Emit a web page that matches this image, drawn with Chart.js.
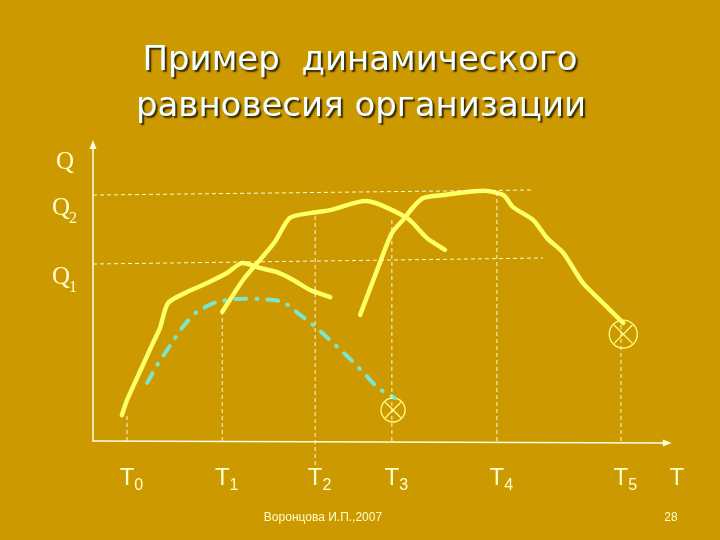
<!DOCTYPE html>
<html><head><meta charset="utf-8">
<script src="https://cdn.jsdelivr.net/npm/chart.js@4/dist/chart.umd.min.js"></script>
<style>html,body{margin:0;padding:0;background:#CC9900;overflow:hidden}canvas{display:block}</style>
</head><body><canvas id="c" width="720" height="540"></canvas>
<script>
// ---- text ----
const titleLines = ['Пример  динамического', 'равновесия организации'];
const footerText = 'Воронцова И.П.,2007';
const pageNumber = '28';
const axisLabelX = 'T';
const axisLabelY = 'Q';

// ---- time marks (x axis) ----
const tLabels = ['T0', 'T1', 'T2', 'T3', 'T4', 'T5'];
const tPositions = [5.9, 22.4, 38.5, 51.8, 70.0, 91.5];
const tLineTops = [8.6, 42.9, 75.7, 74.1, 82.7, 39.2];
const tLineBottoms = [0, 0, -8, 0, 0, 0];

// ---- quantity levels (y axis) ----
const qLabels = ['Q1', 'Q2'];
const qLevelsLeft = [58.8, 81.7];
const qLevelsRight = [60.8, 83.4];
const qLineEnds = [78.0, 76.3];

// ---- curves ----
const curveAx = [5.0, 5.9, 8.5, 10.4, 11.6, 13.0, 16.3, 19.8, 23.2, 25.8, 28.9, 31.9, 34.7, 37.6, 41.1];
const curveAy = [8.6, 13.6, 24.6, 32.6, 37.5, 45.8, 49.5, 52.5, 55.8, 59.1, 57.5, 56.1, 53.5, 50.2, 47.8];

const curveBx = [22.4, 26.0, 28.9, 31.5, 34.1, 37.6, 41.1, 47.5, 54.4, 57.9, 61.0];
const curveBy = [42.9, 53.5, 60.1, 66.1, 74.1, 75.7, 76.7, 79.7, 74.1, 67.4, 63.5];

const curveCx = [46.3, 49.7, 51.8, 53.7, 55.5, 57.2, 60.7, 67.6, 71.1, 72.8, 76.3, 78.7, 81.5, 84.9, 88.4, 91.9];
const curveCy = [41.9, 59.1, 69.1, 73.4, 77.7, 80.7, 81.7, 83.1, 81.7, 77.7, 73.4, 67.4, 62.5, 52.5, 45.8, 39.2];

const curveDx = [9.4, 11.1, 13.7, 15.4, 18.0, 21.5, 25.0, 28.9, 32.9, 35.9, 38.8, 41.6, 44.2, 46.8, 49.4, 52.3];
const curveDy = [19.3, 25.2, 32.6, 37.5, 42.9, 46.2, 47.2, 47.2, 46.2, 41.9, 37.5, 32.6, 27.9, 22.9, 17.6, 14.3];

// ---- end marks (circled X) ----
const stopX = [52.0, 91.9];
const stopY = [10.3, 35.5];

// ---- build ----
const zip = (xs, ys) => xs.map((v, i) => ({x: v, y: ys[i]}));
const GUIDE = 'rgba(255,255,215,0.95)';
const YELLOW = '#FFFF66';

const datasets = [];
tPositions.forEach((t, i) => datasets.push({
  data: [{x: t, y: tLineBottoms[i]}, {x: t, y: tLineTops[i]}],
  borderColor: GUIDE, borderWidth: 1, borderDash: [4, 3], pointRadius: 0, tension: 0, clip: false
}));
qLevelsLeft.forEach((q, i) => datasets.push({
  data: [{x: 0, y: q}, {x: qLineEnds[i], y: qLevelsRight[i]}],
  borderColor: GUIDE, borderWidth: 1, borderDash: [4, 3], pointRadius: 0, tension: 0, clip: false
}));
[[curveAx, curveAy], [curveBx, curveBy], [curveCx, curveCy]].forEach(([xs, ys]) => datasets.push({
  data: zip(xs, ys), borderColor: YELLOW, borderWidth: 4.5, pointRadius: 0, tension: 0.25,
  borderCapStyle: 'round', borderJoinStyle: 'round', clip: false
}));
datasets.push({
  data: zip(curveDx, curveDy), borderColor: '#7DE6C8', borderWidth: 4, pointRadius: 0, tension: 0.25,
  borderDash: [11, 10, 1, 10], borderCapStyle: 'round', clip: false
});
datasets.push({
  data: zip(stopX, stopY), showLine: false, pointStyle: 'circle',
  pointRadius: ctx => ctx.dataIndex === 0 ? 12 : 14,
  pointBorderColor: '#FFFF88', pointBackgroundColor: 'rgba(0,0,0,0)', pointBorderWidth: 1.3, clip: false
});
datasets.push({
  data: zip(stopX, stopY), showLine: false, pointStyle: 'crossRot',
  pointRadius: ctx => ctx.dataIndex === 0 ? 11 : 13,
  pointBorderColor: '#FFFF88', pointBorderWidth: 1.3, clip: false
});

const deco = {
  id: 'deco',
  beforeDraw(chart) {
    const c = chart.ctx; c.save(); c.fillStyle = '#CC9900'; c.fillRect(0, 0, chart.width, chart.height); c.restore();
  },
  beforeDatasetsDraw(chart) {
    const {ctx, scales: {x, y}} = chart;
    ctx.save();
    ctx.strokeStyle = '#FFFFE0'; ctx.fillStyle = '#FFFFE0'; ctx.lineWidth = 1.5;
    const x0 = x.getPixelForValue(0), y0 = y.getPixelForValue(0);
    const yTop = y.getPixelForValue(100);
    ctx.beginPath(); ctx.moveTo(x0, y0 + 1); ctx.lineTo(x0, yTop + 6); ctx.stroke();
    ctx.beginPath(); ctx.moveTo(x0, yTop); ctx.lineTo(x0 - 3.5, yTop + 9); ctx.lineTo(x0 + 3.5, yTop + 9); ctx.closePath(); ctx.fill();
    const xEnd = x.getPixelForValue(100.3), yEnd = y.getPixelForValue(-0.7);
    ctx.beginPath(); ctx.moveTo(x0, y0); ctx.lineTo(xEnd - 6, yEnd); ctx.stroke();
    ctx.beginPath(); ctx.moveTo(xEnd, yEnd); ctx.lineTo(xEnd - 9, yEnd - 3.5); ctx.lineTo(xEnd - 9, yEnd + 3.5); ctx.closePath(); ctx.fill();
    ctx.restore();
  },
  afterDraw(chart) {
    const {ctx, scales: {x, y}} = chart;
    ctx.save();
    // title
    ctx.font = '34px "DejaVu Sans"';
    ctx.textAlign = 'center'; ctx.textBaseline = 'alphabetic';
    ctx.shadowColor = 'rgba(40,25,0,0.9)'; ctx.shadowOffsetX = 2; ctx.shadowOffsetY = 2; ctx.shadowBlur = 1.5;
    ctx.fillStyle = '#F2FFFF';
    ctx.fillText(titleLines[0], 360, 70);
    ctx.fillText(titleLines[1], 361, 116);
    ctx.shadowColor = 'rgba(0,0,0,0)';
    // Q labels
    const cream = '#FFFFCC';
    ctx.fillStyle = cream; ctx.textAlign = 'left';
    ctx.font = '25px "Liberation Serif"';
    const x0 = x.getPixelForValue(0);
    ctx.fillText(axisLabelY, x0 - 37, y.getPixelForValue(100) + 29);
    qLabels.forEach((lab, i) => {
      const py = y.getPixelForValue(qLevelsLeft[i]);
      ctx.font = '25px "Liberation Serif"';
      ctx.fillText(lab[0], x0 - 41, py + 20);
      const w = ctx.measureText(lab[0]).width;
      ctx.font = '16px "Liberation Serif"';
      ctx.fillText(lab.slice(1), x0 - 41 + w - 1, py + 28);
    });
    // T labels
    const by = chart.chartArea.bottom + 44;
    tLabels.forEach((lab, i) => {
      const px = x.getPixelForValue(tPositions[i]);
      ctx.font = '24px "Liberation Sans"';
      const w = ctx.measureText(lab[0]).width;
      ctx.fillText(lab[0], px - w / 2, by);
      ctx.font = '16px "Liberation Sans"';
      ctx.fillText(lab.slice(1), px + w / 2, by + 5);
    });
    ctx.font = '24px "Liberation Sans"';
    ctx.textAlign = 'center';
    ctx.fillText(axisLabelX, x.getPixelForValue(101.2), by);
    // footer
    ctx.font = '12px "Liberation Sans"';
    ctx.fillText(footerText, 323, 521);
    ctx.fillText(pageNumber, 671, 521);
    ctx.restore();
  }
};

new Chart(document.getElementById('c'), {
  type: 'line',
  data: {datasets},
  options: {
    responsive: false, animation: false,
    layout: {padding: {left: 93, right: 50, top: 140, bottom: 99}},
    plugins: {legend: {display: false}, tooltip: {enabled: false}, title: {display: false}},
    scales: {
      x: {type: 'linear', min: 0, max: 100, display: false},
      y: {type: 'linear', min: 0, max: 100, display: false}
    }
  },
  plugins: [deco]
});
</script></body></html>
